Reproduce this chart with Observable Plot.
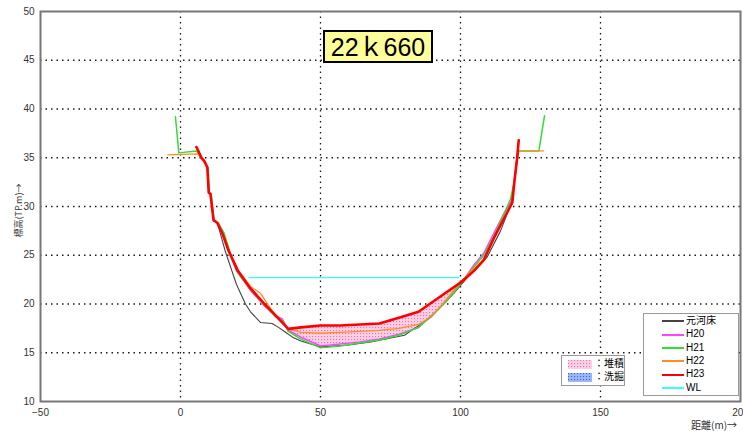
<!DOCTYPE html>
<html><head><meta charset="utf-8">
<script src="https://cdn.jsdelivr.net/npm/d3@7"></script>
<script src="https://cdn.jsdelivr.net/npm/@observablehq/plot@0.6"></script>
<style>
body{margin:0;background:#fff;font-family:"Liberation Sans","Noto Sans CJK JP",sans-serif;}
#wrap{position:relative;width:743px;height:431px;}
.title{position:absolute;left:323px;top:30px;width:106px;height:29px;background:#ffff99;border:2px solid #000;font:25px "Liberation Sans","Noto Sans CJK JP",sans-serif;text-align:center;line-height:30px;color:#000;}
.leg{position:absolute;background:#fff;border:1.5px solid #999;font:10px "Liberation Sans","Noto Sans CJK JP",sans-serif;color:#000;}
.row{position:absolute;left:0;height:12px;line-height:12px;white-space:nowrap;}
.ln{display:inline-block;width:22px;height:2px;vertical-align:middle;margin:0 2px 0 18px;}
</style></head><body>
<div id="wrap"></div>
<script>
// ---- data ----
const xTicks = [-50, 0, 50, 100, 150, 200];
const yTicks = [10, 15, 20, 25, 30, 35, 40, 45, 50];
const seriesNames = ["元河床", "H20", "H21", "H22", "H23", "WL"];
const seriesColors = ["#444444", "#ff44ff", "#33dd33", "#ff8c26", "#ff0000", "#33ffff"];

const genX = [5.7, 7.5, 8.6, 9.6, 10.1, 10.7, 11.8, 13.2, 16, 20, 23.2, 25, 28.6, 32.7, 35, 37.5, 40, 43, 50, 60, 68, 80, 89.3, 97.6, 102.4, 109.5, 114.3, 118.5, 119.3, 120.2, 120.8];
const genY = [36.1, 35.0, 34.6, 34.0, 31.4, 31.3, 28.6, 28.3, 25.4, 22.0, 20.0, 19.2, 18.1, 18.0, 17.6, 17.1, 16.6, 16.2, 15.6, 15.8, 16.1, 16.8, 18.6, 21.1, 22.7, 24.8, 27.5, 30.6, 32.7, 34.9, 35.7];

const basinX = [38.5, 43, 50, 57, 64, 71, 78, 85, 90, 95, 100.5];

const h20X = [6, 7.5, 8.6, 9.6, 10.1, 10.7, 11.8, 13.2, 15.2, 17.5, 20, 25, 30, 34, 36.3, ...basinX, 104.8, 108.3, 111.8, 115, 118, 119.3, 120.2, 120.8];
const h20Y = [35.6, 35.0, 34.6, 34.0, 31.4, 31.3, 28.6, 28.3, 27.4, 25.3, 23.4, 21.4, 19.8, 18.8, 18.5, 17.3, 16.6, 15.7, 15.9, 16.1, 16.4, 16.9, 17.6, 18.9, 20.3, 22.2, 24.0, 25.2, 27.2, 29.0, 30.5, 32.7, 34.9, 35.7];

const h21X = [-1.8, -0.6, 5.7, 7.5, 8.6, 9.8, 10.3, 10.9, 12.0, 13.5, 15.5, 17.7, 20.3, 25.2, 30, 34, 36.5, ...basinX, 104.8, 108.3, 112, 115, 117.9, 119.3, 120.2, 120.8, 128, 130];
const h21Y = [39.2, 35.5, 35.7, 35.0, 34.6, 34.0, 31.4, 31.3, 28.6, 28.3, 27.3, 25.3, 23.3, 21.4, 19.9, 18.7, 18.3, 17.2, 16.4, 15.5, 15.7, 16.0, 16.3, 16.8, 17.6, 18.9, 20.3, 22.2, 23.8, 25.0, 27.0, 28.9, 30.8, 32.7, 34.9, 35.7, 35.7, 39.3];

const h22X = [-4.5, 6, 7.5, 8.6, 9.6, 10.1, 10.7, 11.8, 13.2, 15, 17.1, 20.5, 25, 28.6, 33, ...basinX, 104.8, 108.3, 112, 118.5, 119.3, 120.2, 120.8, 128, 129.7];
const h22Y = [35.3, 35.4, 35.0, 34.6, 34.0, 31.4, 31.3, 28.6, 28.3, 27.3, 25.6, 23.5, 21.8, 21.1, 19.2, 17.45, 17.1, 17.0, 17.1, 17.2, 17.3, 17.5, 17.9, 18.8, 20.5, 22.4, 23.6, 24.6, 26.8, 30.4, 32.7, 34.9, 35.7, 35.7, 35.7, 36.1];

const h23X = [5.7, 7.5, 8.6, 9.6, 10.1, 10.7, 11.8, 13.2, 15, 17.1, 20.5, 25, 30, 35, ...basinX, 104.8, 108.3, 112, 118.5, 119.3, 120.2, 120.8];
const h23Y = [36.1, 35.0, 34.6, 34.0, 31.4, 31.3, 28.6, 28.3, 27.2, 25.5, 23.4, 21.6, 20.0, 18.5, 17.45, 17.6, 17.8, 17.8, 17.9, 18.0, 18.6, 19.2, 20.2, 21.2, 22.3, 23.4, 24.5, 26.8, 30.4, 32.7, 34.9, 36.8];

const wlX = [24.4, 99.4];
const wlY = [22.7, 22.7];

// ---- build ----
const pts = (xs, ys) => xs.map((x, i) => ({x, y: ys[i]}));
const h20Basin = h20X.map((x, i) => [x, h20Y[i]]).filter(d => basinX.includes(d[0]));
const h23Basin = h23X.map((x, i) => [x, h23Y[i]]).filter(d => basinX.includes(d[0]));
const deposit = basinX.map((x, i) => ({x, lo: h20Basin[i][1], hi: h23Basin[i][1]}));

const chart = Plot.plot({
  width: 743, height: 431,
  marginLeft: 40, marginRight: 3, marginTop: 11, marginBottom: 30,
  style: {fontFamily: "Liberation Sans, sans-serif", fontSize: "10px", color: "#333", background: "#fff"},
  x: {domain: [-50, 200], ticks: xTicks, tickSize: 0, tickPadding: 7, label: null},
  y: {domain: [10, 50], ticks: yTicks, tickSize: 0, tickPadding: 6, label: null},
  marks: [
    Plot.gridX(xTicks.filter(t => t > -50 && t < 200), {stroke: "#000", strokeOpacity: 0.9, strokeWidth: 1.3, strokeDasharray: "1.5,4"}),
    Plot.gridY(yTicks.filter(t => t > 10 && t < 50), {stroke: "#000", strokeOpacity: 0.9, strokeWidth: 1.3, strokeDasharray: "1.5,4"}),
    Plot.areaY(deposit, {x: "x", y1: "lo", y2: "hi", fill: "url(#pinkdots)"}),
    Plot.line(pts(wlX, wlY), {x: "x", y: "y", stroke: seriesColors[5], strokeWidth: 1.2}),
    Plot.line(pts(genX, genY), {x: "x", y: "y", stroke: seriesColors[0], strokeWidth: 1.1}),
    Plot.line(pts(h20X, h20Y), {x: "x", y: "y", stroke: seriesColors[1], strokeWidth: 1.6}),
    Plot.line(pts(h21X, h21Y), {x: "x", y: "y", stroke: seriesColors[2], strokeWidth: 1.5}),
    Plot.line(pts(h22X, h22Y), {x: "x", y: "y", stroke: seriesColors[3], strokeWidth: 1.3}),
    Plot.line(pts(h23X, h23Y), {x: "x", y: "y", stroke: seriesColors[4], strokeWidth: 2.6}),
    Plot.frame({stroke: "#777", strokeWidth: 2})
  ]
});

const defs = document.createElementNS("http://www.w3.org/2000/svg", "defs");
defs.innerHTML = `
<pattern id="pinkdots" width="3" height="3" patternUnits="userSpaceOnUse">
  <rect width="3" height="3" fill="#fccfe5"/>
  <rect x="0" y="0" width="1.1" height="1.1" fill="#ec74ae"/>
</pattern>
<pattern id="bluedots" width="3" height="3" patternUnits="userSpaceOnUse">
  <rect width="3" height="3" fill="#9bb8f6"/>
  <rect x="0" y="0" width="1.1" height="1.1" fill="#3a5fd8"/>
</pattern>`;
chart.insertBefore(defs, chart.firstChild);

const wrap = document.getElementById("wrap");
wrap.appendChild(chart);
chart.style.position = "absolute"; chart.style.left = "0"; chart.style.top = "0";

// y label
const yl = document.createElement("div");
yl.textContent = "標高(TP.m)→";
yl.style.cssText = "position:absolute;left:-22px;top:204px;width:80px;text-align:center;transform:rotate(-90deg);font:9px 'Noto Sans CJK JP',sans-serif;color:#333;";
wrap.appendChild(yl);
// x label
const xl = document.createElement("div");
xl.textContent = "距離(m)→";
xl.style.cssText = "position:absolute;left:691px;top:417px;font:10px 'Noto Sans CJK JP',sans-serif;color:#333;";
wrap.appendChild(xl);

// title
const t = document.createElement("div");
t.className = "title"; t.textContent = "22ｋ660";
wrap.appendChild(t);

// series legend
const leg = document.createElement("div");
leg.className = "leg";
leg.style.cssText += "left:643px;top:313px;width:94px;height:81px;";
seriesNames.forEach((n, i) => {
  const r = document.createElement("div");
  r.className = "row"; r.style.top = (1 + i * 13.3) + "px";
  r.innerHTML = `<span class="ln" style="background:${seriesColors[i]}"></span>${n}`;
  leg.appendChild(r);
});
wrap.appendChild(leg);

// fill legend
const leg2 = document.createElement("div");
leg2.className = "leg";
leg2.style.cssText += "left:561px;top:355px;width:62px;height:29px;";
[["url(#pinkdots)", "：堆積"], ["url(#bluedots)", "：洗掘"]].forEach((d, i) => {
  const r = document.createElement("div");
  r.className = "row"; r.style.top = (2 + i * 13) + "px";
  r.innerHTML = `<svg width="24" height="9" style="vertical-align:middle;margin-left:6px"><rect width="24" height="9" fill="${d[0]}"/></svg><span style="margin-left:2px">${d[1]}</span>`;
  leg2.appendChild(r);
});
wrap.appendChild(leg2);
</script>
</body></html>
